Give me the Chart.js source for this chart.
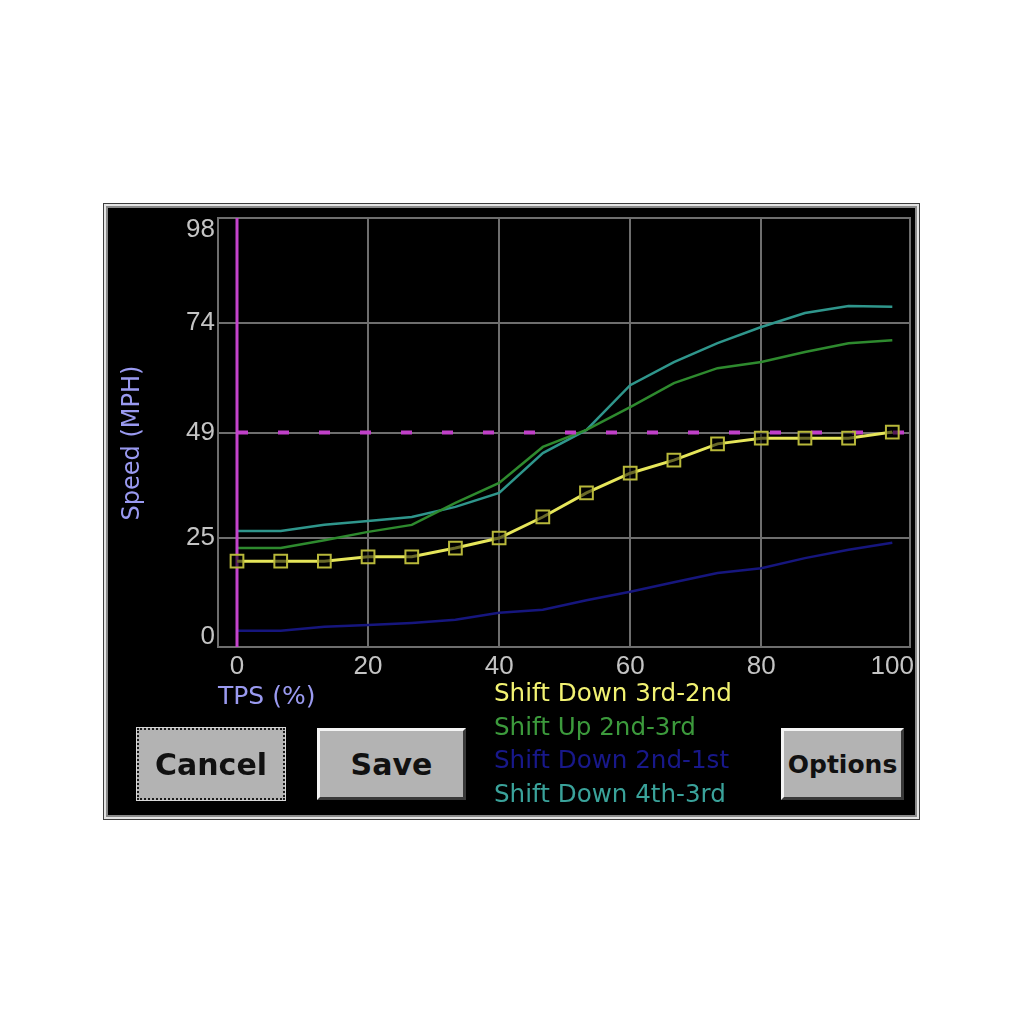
<!DOCTYPE html>
<html><head><meta charset="utf-8">
<script src="https://cdn.jsdelivr.net/npm/chart.js@4/dist/chart.umd.min.js"></script>
<style>
html,body{margin:0;padding:0;background:#fff;width:1024px;height:1024px;overflow:hidden}
#panel{position:absolute;left:103px;top:203px;width:817px;height:617px;background:#000;
 box-shadow:inset 0 0 0 1px #3c3c3c, inset 0 0 0 3px #e4e4e4, inset 0 0 0 5px #8a8a8a;}
#c{position:absolute;left:0;top:0}
.btn{position:absolute;box-sizing:border-box;background:#b3b3b3;
 border-top:3px solid #f4f4f4;border-left:3px solid #f4f4f4;border-right:3px solid #3a3a3a;border-bottom:3px solid #3a3a3a;
 font-family:"DejaVu Sans";font-weight:bold;color:#111;display:flex;align-items:center;justify-content:center}
#cancel{border:2px dotted #1a1a1a;box-shadow:0 0 0 1px #d8d8d8}
</style></head><body>
<div id="panel"></div>
<canvas id="c" width="1024" height="1024"></canvas>
<div class="btn" id="cancel" style="left:137px;top:728px;width:148px;height:72px;font-size:30px">Cancel</div>
<div class="btn" id="save" style="left:317px;top:728px;width:149px;height:72px;font-size:30px">Save</div>
<div class="btn" id="options" style="left:781px;top:728px;width:123px;height:72px;font-size:25px">Options</div>
<script>
// ---- data ----
const tps = [0, 6.67, 13.33, 20, 26.67, 33.33, 40, 46.67, 53.33, 60, 66.67, 73.33, 80, 86.67, 93.33, 100];
const shiftDown32 = [19.6, 19.6, 19.6, 20.6, 20.6, 22.6, 24.9, 29.7, 35.2, 39.7, 42.7, 46.4, 47.7, 47.7, 47.7, 49.1];
const shiftUp23   = [22.6, 22.6, 24.4, 26.3, 27.9, 32.9, 37.5, 45.7, 49.6, 54.8, 60.3, 63.7, 65.1, 67.4, 69.4, 70.1];
const shiftDown21 = [3.7, 3.7, 4.6, 5.0, 5.5, 6.2, 7.8, 8.5, 10.7, 12.6, 14.8, 16.9, 18.0, 20.3, 22.2, 23.8];
const shiftDown43 = [26.5, 26.5, 27.9, 28.8, 29.7, 32.0, 35.2, 44.3, 49.6, 59.8, 65.1, 69.4, 73.1, 76.3, 77.9, 77.7];
const seriesLabels = ["Shift Down 3rd-2nd", "Shift Up 2nd-3rd", "Shift Down 2nd-1st", "Shift Down 4th-3rd"];
const yTicks = [0, 25, 49, 74, 98];
const xTicks = [0, 20, 40, 60, 80, 100];
const xRange = [-2.9, 102.7];
const yRange = [0, 98];
const cursorTps = 0;
const cursorSpeed = 49;
const yTitle = "Speed (MPH)";
const xTitle = "TPS (%)";

const pts = arr => tps.map((x, i) => ({x: x, y: arr[i]}));
const GRID = '#6e6e6e';

const panelPlugin = {
  id: 'panelPlugin',
  beforeDatasetsDraw(chart) {
    const {ctx, chartArea: a} = chart;
    ctx.save();
    ctx.strokeStyle = GRID; ctx.lineWidth = 2;
    ctx.strokeRect(a.left, a.top, a.right - a.left, a.bottom - a.top);
    ctx.restore();
  },
  afterDraw(chart) {
    const {ctx} = chart;
    const ys = chart.scales.y, xs = chart.scales.x;
    ctx.save();
    // y tick labels
    ctx.font = '26px "Liberation Sans"';
    ctx.fillStyle = '#c4c4c4';
    ctx.textAlign = 'right'; ctx.textBaseline = 'middle';
    yTicks.forEach(v => {
      let y = ys.getPixelForValue(v);
      if (v === yRange[1]) y += 12;
      if (v === yRange[0]) y -= 10;
      ctx.fillText(String(v), ys.right - 3, y);
    });
    // axis titles
    ctx.fillStyle = '#9a9af0';
    ctx.font = '24px "DejaVu Sans"';
    ctx.save();
    ctx.translate(133, 443);
    ctx.rotate(-Math.PI / 2);
    ctx.textAlign = 'center'; ctx.textBaseline = 'middle';
    ctx.fillText(yTitle, 0, 0);
    ctx.restore();
    ctx.textAlign = 'left'; ctx.textBaseline = 'middle';
    ctx.font = '25px "DejaVu Sans"';
    ctx.fillText(xTitle, xs.left, 697);
    // legend
    ctx.font = '24.6px "DejaVu Sans"';
    const items = chart.data.datasets.filter(d => d.legendIndex !== undefined)
      .sort((a, b) => a.legendIndex - b.legendIndex);
    items.forEach((d, i) => {
      ctx.fillStyle = d.legendColor;
      ctx.fillText(d.label, 494, 695 + i * 33.5);
    });
    ctx.restore();
  }
};

new Chart(document.getElementById('c'), {
  type: 'line',
  data: {
    datasets: [
      {label: seriesLabels[0], legendIndex: 0, legendColor: '#f2f272', data: pts(shiftDown32),
       borderColor: '#e6e65a', borderWidth: 3, pointStyle: 'rect', pointRadius: 9,
       pointBorderColor: '#b8b83a', pointBackgroundColor: 'rgba(0,0,0,0.55)', pointBorderWidth: 2},
      {label: 'cursorV', data: [{x: cursorTps, y: yRange[0]}, {x: cursorTps, y: yRange[1]}],
       borderColor: '#c444cc', borderWidth: 3, pointRadius: 0},
      {label: 'cursorH', data: [{x: cursorTps, y: cursorSpeed}, {x: xRange[1], y: cursorSpeed}],
       borderColor: '#c040c8', borderWidth: 4, borderDash: [11, 30], pointRadius: 0},
      {label: seriesLabels[1], legendIndex: 1, legendColor: '#3c9a3c', data: pts(shiftUp23),
       borderColor: '#2e8a2e', borderWidth: 2.5, pointRadius: 0},
      {label: seriesLabels[2], legendIndex: 2, legendColor: '#18188a', data: pts(shiftDown21),
       borderColor: '#16167e', borderWidth: 2.5, pointRadius: 0},
      {label: seriesLabels[3], legendIndex: 3, legendColor: '#3aa29a', data: pts(shiftDown43),
       borderColor: '#2f968c', borderWidth: 2.5, pointRadius: 0}
    ]
  },
  options: {
    responsive: false, animation: false, devicePixelRatio: 1,
    layout: {padding: {left: 0, top: 218, right: 114, bottom: 337}},
    elements: {line: {tension: 0}},
    plugins: {legend: {display: false}, tooltip: {enabled: false}},
    scales: {
      x: {type: 'linear', min: xRange[0], max: xRange[1],
          afterBuildTicks: s => { s.ticks = xTicks.map(v => ({value: v})); },
          afterFit: s => { s.height = 40; },
          grid: {drawTicks: false, lineWidth: 2,
                 color: c => (c.tick && (c.tick.value === xTicks[0] || c.tick.value === xTicks[xTicks.length - 1])) ? 'rgba(0,0,0,0)' : GRID},
          border: {display: true, color: GRID, width: 2},
          ticks: {color: '#c4c4c4', font: {family: 'Liberation Sans', size: 26}, padding: 4, maxRotation: 0, autoSkip: false}},
      y: {type: 'linear', min: yRange[0], max: yRange[1],
          afterBuildTicks: s => { s.ticks = yTicks.map(v => ({value: v})); },
          afterFit: s => { s.width = 218; },
          grid: {drawTicks: false, lineWidth: 2, color: GRID},
          border: {display: true, color: GRID, width: 2},
          ticks: {display: false}}
    }
  },
  plugins: [panelPlugin]
});
</script>
</body></html>
